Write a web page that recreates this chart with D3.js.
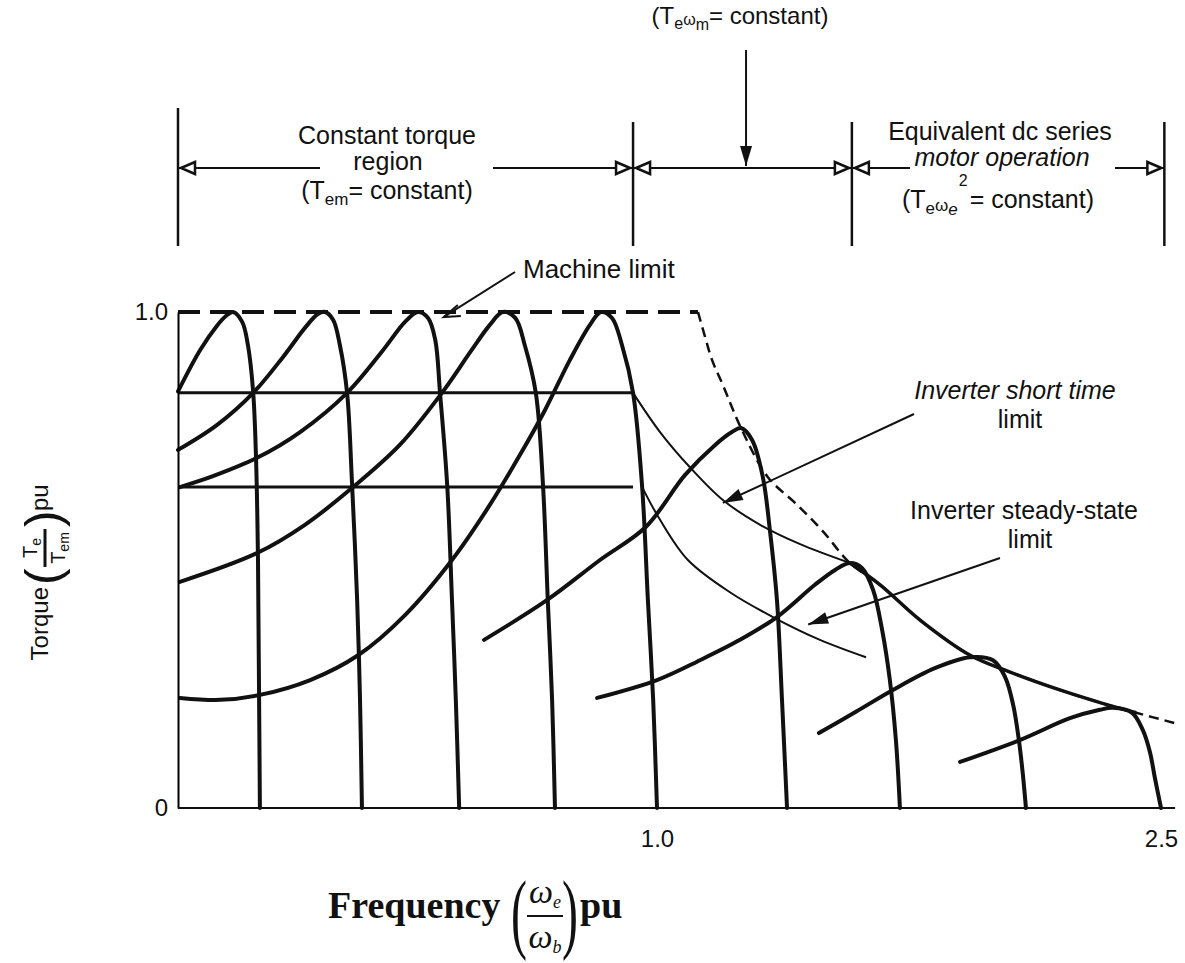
<!DOCTYPE html>
<html>
<head>
<meta charset="utf-8">
<script src="https://cdn.jsdelivr.net/npm/d3@7"></script>
<style>
  body { margin: 0; background: #fff; }
  svg { display: block; }
  text { font-family: "Liberation Sans", Arial, sans-serif; fill: #111; }
  .serif { font-family: "Liberation Serif", "Times New Roman", serif; }
</style>
</head>
<body>
<script>
// axis ticks
const yTicks = [0, 1];
const yTickLabels = ["0", "1.0"];
const xTicks = [1, 2.5];
const xTickLabels = ["1.0", "2.5"];

// horizontal torque levels in the constant torque region
const gridTorque = [0.837, 0.647];
const gridEnd = 0.95;

// region boundaries (frequency pu) for the dimension lines on top
const regionEdges = [0, 0.95, 1.58, 2.51];

// torque-speed curves, [frequency pu, torque pu]
const curve1 = [[0,0.84],[0.046,0.923],[0.081,0.972],[0.1,0.992],[0.115,1],[0.134,0.98],[0.146,0.933],[0.157,0.837],[0.163,0.702],[0.167,0.5],[0.169,0.258],[0.171,0]];
const curve2 = [[0,0.722],[0.081,0.772],[0.157,0.837],[0.219,0.909],[0.265,0.968],[0.292,0.996],[0.307,1],[0.324,0.984],[0.338,0.933],[0.353,0.837],[0.363,0.661],[0.374,0.419],[0.38,0.218],[0.384,0]];
const curve3 = [[0.004,0.647],[0.073,0.669],[0.165,0.706],[0.255,0.758],[0.353,0.837],[0.428,0.923],[0.474,0.98],[0.501,1],[0.522,0.988],[0.537,0.944],[0.547,0.837],[0.562,0.651],[0.572,0.419],[0.58,0.218],[0.587,0]];
const curve4 = [[0.004,0.456],[0.165,0.514],[0.265,0.571],[0.363,0.645],[0.463,0.732],[0.551,0.837],[0.61,0.919],[0.651,0.974],[0.678,1],[0.704,0.988],[0.724,0.933],[0.747,0.837],[0.762,0.651],[0.772,0.419],[0.781,0.218],[0.787,0]];
const curve5 = [[0.004,0.222],[0.088,0.218],[0.171,0.228],[0.276,0.258],[0.376,0.308],[0.474,0.389],[0.572,0.5],[0.651,0.611],[0.714,0.712],[0.766,0.802],[0.818,0.903],[0.86,0.974],[0.883,1],[0.906,0.988],[0.927,0.933],[0.95,0.837],[0.969,0.647],[0.981,0.419],[0.992,0.218],[1,0]];
const curve6 = [[0.639,0.339],[0.77,0.419],[0.881,0.5],[0.977,0.567],[1.083,0.671],[1.173,0.732],[1.223,0.758],[1.25,0.766],[1.283,0.742],[1.315,0.667],[1.336,0.56],[1.357,0.419],[1.372,0.218],[1.387,0]];
const curve7 = [[0.875,0.222],[1,0.258],[1.128,0.298],[1.247,0.339],[1.357,0.385],[1.47,0.45],[1.53,0.48],[1.574,0.494],[1.61,0.484],[1.643,0.44],[1.67,0.359],[1.693,0.258],[1.711,0.137],[1.723,0]];
const curve8 = [[1.482,0.151],[1.592,0.194],[1.702,0.238],[1.827,0.282],[1.932,0.304],[2,0.298],[2.036,0.264],[2.06,0.208],[2.077,0.137],[2.089,0.067],[2.098,0]];
const curve9 = [[1.902,0.093],[2.08,0.137],[2.229,0.181],[2.318,0.198],[2.357,0.202],[2.414,0.192],[2.446,0.157],[2.467,0.113],[2.482,0.06],[2.5,0]];

// limits
const machineFlat = [[0,1],[1.122,1]];
const machineFall = [[1.122,1],[1.143,0.95],[1.164,0.903],[1.196,0.853],[1.25,0.766],[1.33,0.667],[1.411,0.615],[1.491,0.56],[1.574,0.494],[1.664,0.45],[1.783,0.379],[1.932,0.308],[2.051,0.274],[2.199,0.238],[2.321,0.212],[2.426,0.192],[2.542,0.171]];
const envelope = [[1.574,0.494],[1.664,0.45],[1.783,0.379],[1.932,0.308],[2.051,0.274],[2.199,0.238],[2.321,0.212],[2.426,0.192]];
const shortTime = [[0.95,0.837],[1.009,0.758],[1.098,0.687],[1.196,0.621],[1.307,0.571],[1.426,0.532],[1.574,0.494]];
const steadyState = [[0.969,0.647],[1.009,0.581],[1.092,0.5],[1.217,0.435],[1.345,0.385],[1.485,0.339],[1.622,0.304]];

const curves = [curve1, curve2, curve3, curve4, curve5, curve6, curve7, curve8, curve9];

const w = 1185;
const h = 963;

const x = d3.scaleLinear().domain([0, 1, 2.5]).range([178, 657, 1161]);
const y = d3.scaleLinear().domain([0, 1]).range([808, 312]);

const line = d3.line()
    .x(d => x(d[0]))
    .y(d => y(d[1]))
    .curve(d3.curveCatmullRom.alpha(0.5));

const svg = d3.select("body")
    .append("svg")
        .attr("width", w)
        .attr("height", h)

// --- plot ---
const plot = svg.append("g")

// horizontal torque levels
plot.selectAll(".grid")
    .data(gridTorque)
    .enter()
    .append("line")
        .attr("x1", x(0))
        .attr("x2", x(gridEnd))
        .attr("y1", d => y(d))
        .attr("y2", d => y(d))
        .attr("stroke", "#111")
        .attr("stroke-width", 3)

// machine limit (dashed)
plot.append("path")
    .attr("d", d3.line().x(d => x(d[0])).y(d => y(d[1]))(machineFlat))
    .attr("fill", "none")
    .attr("stroke", "#111")
    .attr("stroke-width", 4)
    .attr("stroke-dasharray", "22 10")

plot.append("path")
    .attr("d", line(machineFall))
    .attr("fill", "none")
    .attr("stroke", "#111")
    .attr("stroke-width", 2.5)
    .attr("stroke-dasharray", "10 6")

// thin limit lines
plot.append("path")
    .attr("d", line(shortTime))
    .attr("fill", "none")
    .attr("stroke", "#111")
    .attr("stroke-width", 2)

plot.append("path")
    .attr("d", line(steadyState))
    .attr("fill", "none")
    .attr("stroke", "#111")
    .attr("stroke-width", 2)

plot.append("path")
    .attr("d", line(envelope))
    .attr("fill", "none")
    .attr("stroke", "#111")
    .attr("stroke-width", 3.5)

// torque-speed curves
plot.selectAll(".curve")
    .data(curves)
    .enter()
    .append("path")
        .attr("class", "curve")
        .attr("d", line)
        .attr("fill", "none")
        .attr("stroke", "#111")
        .attr("stroke-width", 4)
        .attr("stroke-linecap", "round")

// axes
const yAxis = d3.axisLeft(y)
    .tickValues(yTicks)
    .tickFormat((d, i) => yTickLabels[i])
    .tickSize(0)
    .tickSizeOuter(0)
    .tickPadding(10)

plot.append("g")
    .attr("transform", `translate(${x(0)},0)`)
    .call(yAxis)
    .call(g => g.select(".domain").attr("stroke-width", 2))
    .call(g => g.selectAll("text").attr("font-size", 24).style("font-family", "Liberation Sans, Arial, sans-serif"))

const xAxis = d3.axisBottom(x)
    .tickValues(xTicks)
    .tickFormat((d, i) => xTickLabels[i])
    .tickSize(0)
    .tickSizeOuter(0)
    .tickPadding(22)

plot.append("g")
    .attr("transform", `translate(0,${y(0)})`)
    .call(xAxis)
    .call(g => g.select(".domain").remove())
    .call(g => g.selectAll("text").attr("font-size", 24).style("font-family", "Liberation Sans, Arial, sans-serif"))

plot.append("line")
    .attr("x1", x(0))
    .attr("x2", x(2.542))
    .attr("y1", y(0))
    .attr("y2", y(0))
    .attr("stroke", "#111")
    .attr("stroke-width", 2)

// --- arrow helpers ---
function openHead(g, tx, ty, dir) {
    // dir: 1 = pointing right, -1 = pointing left
    g.append("path")
        .attr("d", `M${tx},${ty} L${tx - dir * 14},${ty - 6} L${tx - dir * 14},${ty + 6} Z`)
        .attr("fill", "#fff")
        .attr("stroke", "#111")
        .attr("stroke-width", 2.5)
}

function solidArrow(g, x1, y1, x2, y2, len, half) {
    g.append("line")
        .attr("x1", x1).attr("y1", y1)
        .attr("x2", x2).attr("y2", y2)
        .attr("stroke", "#111")
        .attr("stroke-width", 2)
    const a = Math.atan2(y2 - y1, x2 - x1);
    const bx = x2 - len * Math.cos(a), by = y2 - len * Math.sin(a);
    g.append("path")
        .attr("d", `M${x2},${y2} L${bx - half * Math.sin(a)},${by + half * Math.cos(a)} L${bx + half * Math.sin(a)},${by - half * Math.cos(a)} Z`)
        .attr("fill", "#111")
}

// --- top dimension lines ---
const topG = svg.append("g")
const dimY = 168;
const barTop = [108, 122, 122, 122];

regionEdges.forEach((e, i) => {
    topG.append("line")
        .attr("x1", x(e)).attr("x2", x(e))
        .attr("y1", barTop[i]).attr("y2", 246)
        .attr("stroke", "#111")
        .attr("stroke-width", 2.5)
})

const segs = [
    [x(regionEdges[0]), x(regionEdges[1]), 320, 493],
    [x(regionEdges[1]), x(regionEdges[2]), null, null],
    [x(regionEdges[2]), x(regionEdges[3]), 910, 1115]
];
segs.forEach(s => {
    const [a, b, g1, g2] = s;
    const parts = g1 ? [[a, g1], [g2, b]] : [[a, b]];
    parts.forEach(p => {
        topG.append("line")
            .attr("x1", p[0]).attr("x2", p[1])
            .attr("y1", dimY).attr("y2", dimY)
            .attr("stroke", "#111")
            .attr("stroke-width", 2)
    })
    openHead(topG, a + 3, dimY, -1)
    openHead(topG, b - 3, dimY, 1)
})

// region texts
topG.append("text").attr("x", 387).attr("y", 144).attr("text-anchor", "middle").attr("font-size", 25).text("Constant torque")
topG.append("text").attr("x", 388).attr("y", 170).attr("text-anchor", "middle").attr("font-size", 25).text("region")
const t1 = topG.append("text").attr("x", 387).attr("y", 199).attr("text-anchor", "middle").attr("font-size", 25)
t1.append("tspan").text("(T")
t1.append("tspan").attr("font-size", 17).attr("dy", 6).text("em")
t1.append("tspan").attr("dy", -6).text("= constant)")

const t2 = topG.append("text").attr("x", 740).attr("y", 24).attr("text-anchor", "middle").attr("font-size", 24)
t2.append("tspan").text("(T")
t2.append("tspan").attr("font-size", 16).attr("dy", 5).text("e")
t2.append("tspan").attr("font-size", 16).attr("dy", -4).text("ω")
t2.append("tspan").attr("font-size", 16).attr("dy", 5).text("m")
t2.append("tspan").attr("dy", -6).text("= constant)")

solidArrow(topG, x(1.265), 50, x(1.265), dimY - 2, 20, 6)

topG.append("text").attr("x", 1000).attr("y", 140).attr("text-anchor", "middle").attr("font-size", 25).text("Equivalent dc series")
topG.append("text").attr("x", 1002).attr("y", 166).attr("text-anchor", "middle").attr("font-size", 25).attr("font-style", "italic").text("motor operation")
const t3 = topG.append("text").attr("x", 998).attr("y", 208).attr("text-anchor", "middle").attr("font-size", 25)
t3.append("tspan").text("(T")
t3.append("tspan").attr("font-size", 17).attr("dy", 6).text("e")
t3.append("tspan").attr("font-size", 17).attr("dy", -3).text("ω")
t3.append("tspan").attr("font-size", 17).attr("dy", 4).attr("font-style", "italic").text("e")
t3.append("tspan").attr("font-size", 16).attr("dx", 1).attr("dy", -29).text("2")
t3.append("tspan").attr("dx", 2).attr("dy", 22).text("= constant)")

// --- plot annotations ---
const ann = svg.append("g")
ann.append("text").attr("x", 523).attr("y", 278).attr("font-size", 26).text("Machine limit")
ann.append("line")
    .attr("x1", 515).attr("y1", 272)
    .attr("x2", x(0.555)).attr("y2", y(0.99))
    .attr("stroke", "#111").attr("stroke-width", 2)
ann.append("path")
    .attr("d", `M${x(0.555) + 14},${y(0.99) - 12} L${x(0.555)},${y(0.99)} L${x(0.555) + 17},${y(0.99) - 1}`)
    .attr("fill", "none").attr("stroke", "#111").attr("stroke-width", 2)

ann.append("text").attr("x", 1015).attr("y", 399).attr("text-anchor", "middle").attr("font-size", 25).attr("font-style", "italic").text("Inverter short time")
ann.append("text").attr("x", 1020).attr("y", 428).attr("text-anchor", "middle").attr("font-size", 25).text("limit")
solidArrow(ann, 914, 414, x(1.196), y(0.615), 20, 6)

ann.append("text").attr("x", 1024).attr("y", 519).attr("text-anchor", "middle").attr("font-size", 25).text("Inverter steady-state")
ann.append("text").attr("x", 1030).attr("y", 548).attr("text-anchor", "middle").attr("font-size", 25).text("limit")
solidArrow(ann, 1000, 558, x(1.45), y(0.37), 20, 6)

// y axis title
const yt = svg.append("g").attr("transform", "translate(48,575) rotate(-90)")
yt.append("text").attr("x", -12).attr("y", 0).attr("text-anchor", "end").attr("font-size", 24).text("Torque")
yt.append("text").attr("x", -10).attr("y", 12).attr("font-size", 50).text("(")
yt.append("line").attr("x1", 8).attr("x2", 46).attr("y1", -3).attr("y2", -3).attr("stroke", "#111").attr("stroke-width", 3)
const num = yt.append("text").attr("x", 27).attr("y", -11).attr("text-anchor", "middle").attr("font-size", 20)
num.append("tspan").text("T")
num.append("tspan").attr("font-size", 14).attr("dy", 4).text("e")
const den = yt.append("text").attr("x", 27).attr("y", 17).attr("text-anchor", "middle").attr("font-size", 20)
den.append("tspan").text("T")
den.append("tspan").attr("font-size", 14).attr("dy", 4).text("em")
yt.append("text").attr("x", 48).attr("y", 12).attr("font-size", 50).text(")")
yt.append("text").attr("x", 64).attr("y", 0).attr("font-size", 24).text("pu")

// x axis title
const xt = svg.append("g")
xt.append("text").attr("class", "serif").attr("x", 328).attr("y", 918).attr("font-size", 38).attr("font-weight", "bold").text("Frequency")
xt.append("text").attr("class", "serif").attr("x", 0).attr("y", 0).attr("font-size", 80)
    .attr("transform", "translate(511,942) scale(0.6,1.1)").text("(")
xt.append("text").attr("class", "serif").attr("x", 0).attr("y", 0).attr("font-size", 80)
    .attr("transform", "translate(562,942) scale(0.6,1.1)").text(")")
const fe = xt.append("text").attr("class", "serif").attr("x", 545).attr("y", 903).attr("text-anchor", "middle").attr("font-size", 34).attr("font-style", "italic")
fe.append("tspan").text("ω")
fe.append("tspan").attr("font-size", 18).attr("dy", 5).text("e")
xt.append("line").attr("x1", 527).attr("x2", 563).attr("y1", 916).attr("y2", 916).attr("stroke", "#111").attr("stroke-width", 2)
const fb = xt.append("text").attr("class", "serif").attr("x", 545).attr("y", 948).attr("text-anchor", "middle").attr("font-size", 34).attr("font-style", "italic")
fb.append("tspan").text("ω")
fb.append("tspan").attr("font-size", 18).attr("dy", 5).text("b")
xt.append("text").attr("class", "serif").attr("x", 580).attr("y", 918).attr("font-size", 38).attr("font-weight", "bold").text("pu")
</script>
</body>
</html>
